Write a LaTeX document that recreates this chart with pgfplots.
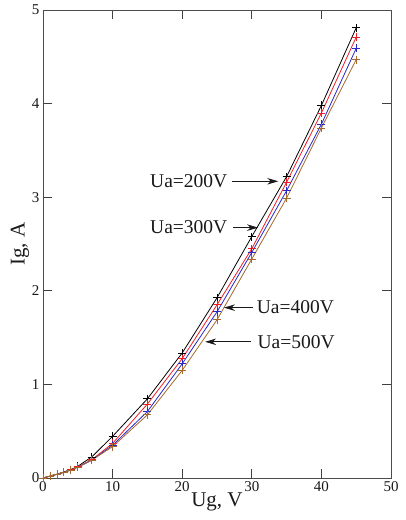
\documentclass[border=0pt]{standalone}
\usepackage{fontspec}
\setmainfont{Liberation Serif}
\usepackage{pgfplots}
\pgfplotsset{compat=1.18}
\usetikzlibrary{arrows.meta}
\definecolor{cbrown}{RGB}{165,105,45}
\definecolor{cred}{RGB}{235,30,40}
\definecolor{cblue}{RGB}{40,40,200}
\begin{document}
\begin{tikzpicture}
\begin{axis}[
  at={(0,0)}, anchor=south west,
  scale only axis, width=348pt, height=468pt,
  xmin=0, xmax=50, ymin=0, ymax=5,
  xtick={0,10,...,50}, ytick={0,1,...,5},
  tick align=inside, major tick length=9pt,
  tick style={black!75, line width=0.8pt},
  axis line style={black!70, line width=0.9pt},
  /pgf/number format/assume math mode=true,
  ticklabel style={font=\fontsize{15}{15}\selectfont, black!90},
  xlabel={Ug, V}, ylabel={Ig, A},
  label style={font=\fontsize{21}{21}\selectfont, black!90},
  xlabel style={yshift=6pt},
  ylabel style={yshift=-4pt},
  every axis plot/.append style={line width=0.8pt, mark=+, mark size=4pt, mark options={line width=0.8pt}},
]
\addplot[black] coordinates {(0,0) (1,0.02) (2,0.04) (3,0.065) (4,0.09) (5,0.125) (7,0.225) (10,0.445) (15,0.846) (20,1.336) (25,1.925) (30,2.58) (35,3.22) (40,3.98) (45,4.81)};
\addplot[cred] coordinates {(0,0) (1,0.02) (2,0.04) (3,0.06) (4,0.09) (5,0.12) (7,0.195) (10,0.37) (15,0.79) (20,1.275) (25,1.85) (30,2.45) (35,3.16) (40,3.90) (45,4.71)};
\addplot[cblue] coordinates {(0,0) (1,0.02) (2,0.04) (3,0.06) (4,0.085) (5,0.115) (7,0.19) (10,0.35) (15,0.71) (20,1.22) (25,1.775) (30,2.41) (35,3.07) (40,3.78) (45,4.59)};
\addplot[cbrown] coordinates {(0,0) (1,0.02) (2,0.04) (3,0.06) (4,0.085) (5,0.115) (7,0.19) (10,0.335) (15,0.675) (20,1.15) (25,1.69) (30,2.34) (35,2.99) (40,3.74) (45,4.47)};
\begin{scope}[every node/.style={font=\fontsize{19.5}{19.5}\selectfont, black!90, inner sep=0pt},
  myarrow/.style={-{Stealth[length=11pt,width=6.5pt]}, line width=0.8pt, black!90}]
\node[anchor=east] at (axis cs:26.5,3.17) {Ua=200V};
\draw[myarrow] (axis cs:27.1,3.17) -- (axis cs:33.8,3.17);
\node[anchor=east] at (axis cs:26.5,2.675) {Ua=300V};
\draw[myarrow] (axis cs:27.3,2.675) -- (axis cs:30.9,2.675);
\node[anchor=west] at (axis cs:30.7,1.82) {Ua=400V};
\draw[myarrow] (axis cs:30.2,1.82) -- (axis cs:26.0,1.82);
\node[anchor=west] at (axis cs:30.8,1.455) {Ua=500V};
\draw[myarrow] (axis cs:29.9,1.455) -- (axis cs:23.3,1.455);
\end{scope}
\end{axis}
\pgfresetboundingbox
\path[use as bounding box] (-43pt,-42pt) rectangle (362pt,478pt);
\end{tikzpicture}
\end{document}
